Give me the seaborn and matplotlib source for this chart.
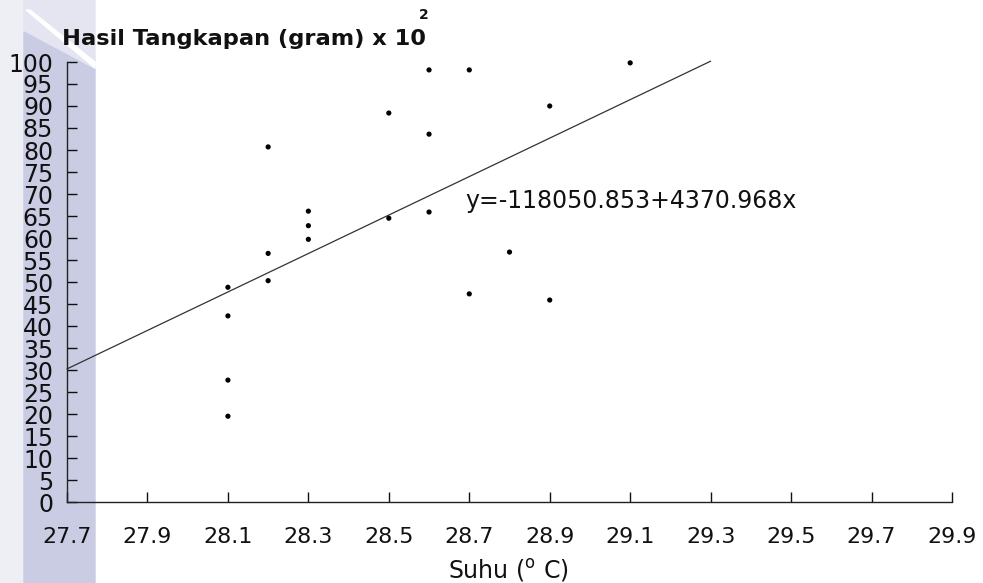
import numpy as np
import pandas as pd
import matplotlib
matplotlib.use("Agg")
import matplotlib.pyplot as plt
from matplotlib.patches import Polygon
import seaborn as sns

# data (catch in gram x 10^2 vs temperature)
suhu = [28.1, 28.1, 28.1, 28.1, 28.2, 28.2, 28.2, 28.3, 28.3, 28.3, 28.5,
        28.5, 28.6, 28.6, 28.6, 28.7, 28.7, 28.8, 28.9, 28.9, 29.1]
hasil = [48.8, 42.3, 27.7, 19.5, 80.7, 56.5, 50.3, 66.1, 62.8, 59.7, 88.4,
         64.5, 98.2, 83.6, 65.9, 98.2, 47.3, 56.8, 90.0, 45.9, 99.8]
intercept = -118050.853
slope = 4370.968
line_range = [27.7, 29.3]
x_ticks = [27.7, 27.9, 28.1, 28.3, 28.5, 28.7, 28.9, 29.1, 29.3, 29.5, 29.7, 29.9]
y_ticks = list(range(0, 101, 5))

df = pd.DataFrame({"suhu": suhu, "hasil": hasil})
reg = pd.DataFrame({"suhu": line_range})
reg["hasil"] = (intercept + slope * reg["suhu"]) / 100

sns.set_style("ticks")
plt.rcParams["font.family"] = ["DejaVu Sans"]
plt.rcParams["mathtext.fontset"] = "dejavusans"

W, H = 983, 583
fig = plt.figure(figsize=(W / 100, H / 100), dpi=100, facecolor="white")

# scan watermark band on the left
def px(pts):
    return [(x / W, 1 - y / H) for x, y in pts]

band = [
    ([(0, 0), (24, 0), (24, H), (0, H)], "#eeeef5"),
    ([(24, 0), (95, 0), (95, 70), (24, 32)], "#e4e5f1"),
    ([(24, 32), (95, 70), (95, H), (24, H)], "#c9cce3"),
    ([(26, 10), (30, 10), (95, 62), (95, 68)], "white"),
]
for pts, c in band:
    fig.patches.append(Polygon(px(pts), closed=True, transform=fig.transFigure,
                               color=c, zorder=-10))

ax = fig.add_axes([67 / W, 1 - 502 / H, (952 - 67) / W, (502 - 62) / H])
ax.set_facecolor("none")
ax.set_zorder(2)

sns.scatterplot(data=df, x="suhu", y="hasil", ax=ax, color="black", s=14,
                edgecolor="none", zorder=3, clip_on=False)
sns.lineplot(data=reg, x="suhu", y="hasil", ax=ax, color="#333333", lw=0.9,
             clip_on=False)

ax.set_xlim(27.7, 29.9)
ax.set_ylim(0, 100)
ax.set_xticks(x_ticks)
ax.set_xticklabels([f"{v:.1f}" for v in x_ticks])
ax.set_yticks(y_ticks)
ax.set_yticklabels([str(v) for v in y_ticks])
ax.tick_params(axis="y", direction="in", length=7, width=1, pad=10,
               labelsize=17, colors="#111111")
ax.tick_params(axis="x", direction="in", length=7, width=1, pad=18,
               labelsize=16, colors="#111111")
sns.despine(ax=ax)
for side in ["left", "bottom"]:
    ax.spines[side].set_linewidth(1)
    ax.spines[side].set_color("#222222")

ax.set_xlabel("")
ax.set_ylabel("")
fig.text(508 / W, 1 - 570 / H, r"Suhu ($^{\mathrm{o}}$ C)", ha="center",
         va="center", fontsize=17, color="#111111")
fig.text(62 / W, 1 - 39 / H, "Hasil Tangkapan (gram) x 10", ha="left",
         va="center", fontsize=16.2, fontweight="bold", color="#111111")
fig.text(424 / W, 1 - 15 / H, "2", ha="center", va="center", fontsize=10,
         fontweight="bold", color="#111111")
ax.text(28.689, 68.4, "y=-118050.853+4370.968x", ha="left", va="center",
        fontsize=17, color="#111111")

fig.savefig("out.png", dpi=100, facecolor="white")
